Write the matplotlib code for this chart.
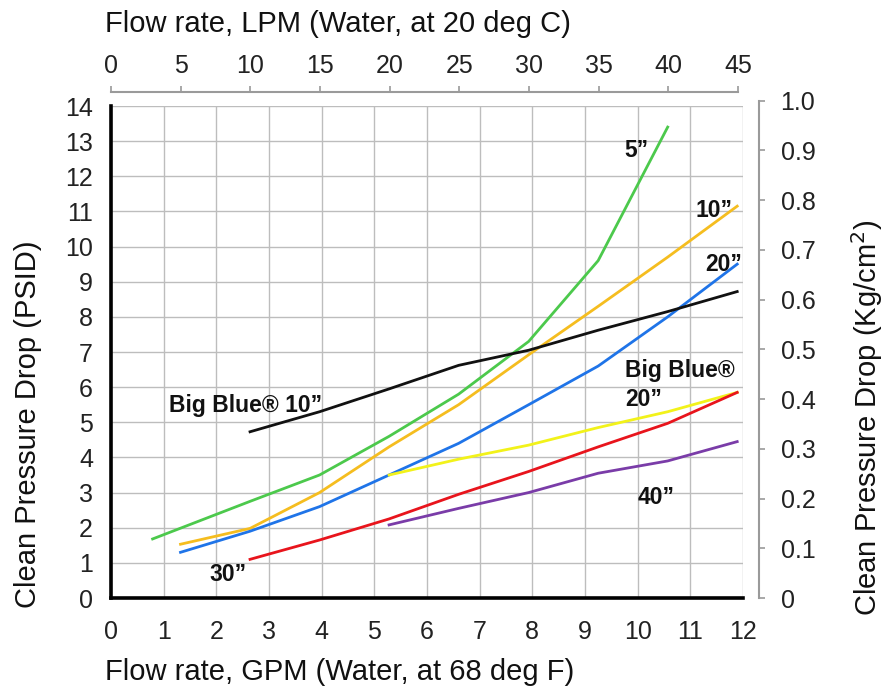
import matplotlib
matplotlib.use("Agg")
import matplotlib.pyplot as plt
import numpy as np

plt.rcParams['font.family'] = ['Liberation Sans', 'DejaVu Sans']

# ---- data (flow in GPM, pressure drop in PSID) ----
gpm_a = [0.79, 2.64, 3.96, 5.28, 6.60, 7.93, 9.25, 10.57]
psid_5in = [1.68, 2.75, 3.50, 4.60, 5.80, 7.30, 9.60, 13.40]

gpm_b = [1.32, 2.64, 3.96, 5.28, 6.60, 7.93, 9.25, 10.57, 11.89]
psid_10in = [1.53, 1.98, 3.00, 4.30, 5.50, 6.92, 8.30, 9.70, 11.15]
psid_20in = [1.30, 1.90, 2.60, 3.50, 4.40, 5.50, 6.60, 8.00, 9.50]

gpm_c = [2.64, 3.96, 5.28, 6.60, 7.93, 9.25, 10.57, 11.89]
psid_bb10 = [4.73, 5.30, 5.95, 6.62, 7.05, 7.62, 8.15, 8.72]
psid_30in = [1.10, 1.65, 2.25, 2.95, 3.60, 4.30, 4.97, 5.85]

gpm_d = [5.28, 6.60, 7.93, 9.25, 10.57, 11.89]
psid_bb20 = [3.50, 3.95, 4.35, 4.85, 5.30, 5.85]
psid_40in = [2.08, 2.55, 3.00, 3.55, 3.90, 4.45]

gpm_ticks = list(range(0, 13))
psid_ticks = list(range(0, 15))
lpm_ticks = list(range(0, 50, 5))
kg_ticks = [0, 0.1, 0.2, 0.3, 0.4, 0.5, 0.6, 0.7, 0.8, 0.9, 1.0]
kg_labels = ['0', '0.1', '0.2', '0.3', '0.4', '0.5', '0.6', '0.7', '0.8', '0.9', '1.0']

W, H = 893, 688
fig = plt.figure(figsize=(W / 100, H / 100), dpi=100)

def fx(px):
    return px / W

def fy(py):
    return 1 - py / H

TICK_FS = 18
TITLE_FS = 21

# main axes: x 111->743, y 598->106
ax = fig.add_axes([fx(111), fy(598), (743 - 111) / W, (598 - 106) / H])
ax.set_xlim(0, 12)
ax.set_ylim(0, 14)
ax.set_xticks(gpm_ticks)
ax.set_yticks(psid_ticks)
ax.grid(True, color='#bdbdbd', linewidth=1.0)
ax.set_axisbelow(True)
for s in ['top', 'right']:
    ax.spines[s].set_visible(False)
for s in ['left', 'bottom']:
    ax.spines[s].set_linewidth(2.6)
    ax.spines[s].set_color('black')
ax.tick_params(axis='both', length=0, labelsize=TICK_FS, colors='#222222')
ax.tick_params(axis='y', pad=13)
ax.tick_params(axis='x', pad=16)

lw = 2.0
ax.plot(gpm_a, psid_5in, color='#4cc94c', lw=lw)
ax.plot(gpm_b, psid_10in, color='#f5bd1f', lw=lw)
ax.plot(gpm_b, psid_20in, color='#1f74e8', lw=lw)
ax.plot(gpm_c, psid_bb10, color='#111111', lw=lw)
ax.plot(gpm_d, psid_bb20, color='#f2f21a', lw=lw)
ax.plot(gpm_c, psid_30in, color='#e8141c', lw=lw)
ax.plot(gpm_d, psid_40in, color='#7a3ca8', lw=lw)

def dx(px):
    return (px - 111) / 52.67

def dy(py):
    return (598 - py) / 35.14

lab = dict(fontsize=16.5, fontweight='bold', color='#111111')
ax.text(dx(636), dy(151), '5\u201d', ha='center', va='center', **lab)
ax.text(dx(714), dy(211), '10\u201d', ha='center', va='center', **lab)
ax.text(dx(724), dy(265), '20\u201d', ha='center', va='center', **lab)
ax.text(dx(625), dy(371), 'Big Blue\u00ae', ha='left', va='center', **lab)
ax.text(dx(625), dy(400), '20\u201d', ha='left', va='center', **lab)
ax.text(dx(656), dy(498), '40\u201d', ha='center', va='center', **lab)
ax.text(dx(228), dy(575), '30\u201d', ha='center', va='center', **lab)
ax.text(dx(246), dy(406), 'Big Blue\u00ae 10\u201d', ha='center', va='center', **lab)

# right axis (kg/cm2) at x=759, y 598->100.7
axr = fig.add_axes([fx(759), fy(598), 1e-4, (598 - 100.7) / H])
axr.set_ylim(0, 1.0)
axr.set_xticks([])
for s in ['top', 'bottom', 'left']:
    axr.spines[s].set_visible(False)
axr.spines['right'].set_color('#9a9a9a')
axr.spines['right'].set_linewidth(1.5)
axr.patch.set_visible(False)
axr.yaxis.tick_right()
axr.set_yticks(kg_ticks)
axr.set_yticklabels(kg_labels)
axr.tick_params(axis='y', direction='out', length=4.5, width=1.2, color='#9a9a9a',
                labelsize=TICK_FS, labelcolor='#222222', pad=11)

# top axis (LPM) at y=92, x 111->738
axt = fig.add_axes([fx(111), fy(92), (738 - 111) / W, 1e-4])
axt.set_xlim(0, 45)
axt.set_yticks([])
for s in ['bottom', 'left', 'right']:
    axt.spines[s].set_visible(False)
axt.spines['top'].set_color('#9a9a9a')
axt.spines['top'].set_linewidth(1.5)
axt.patch.set_visible(False)
axt.xaxis.tick_top()
axt.set_xticks(lpm_ticks)
axt.tick_params(axis='x', direction='out', length=4, width=1.2, color='#9a9a9a',
                labelsize=TICK_FS, labelcolor='#222222', pad=6)

# axis titles
fig.text(fx(105), fy(32), 'Flow rate, LPM (Water, at 20 deg C)', fontsize=TITLE_FS,
         ha='left', va='baseline', color='#111111')
fig.text(fx(105), fy(680), 'Flow rate, GPM (Water, at 68 deg F)', fontsize=TITLE_FS,
         ha='left', va='baseline', color='#111111')
fig.text(fx(28), fy(424), 'Clean Pressure Drop (PSID)', fontsize=TITLE_FS, rotation=90,
         ha='center', va='center', color='#111111')
fig.text(fx(867), fy(418), 'Clean Pressure Drop (Kg/cm$^2$)', fontsize=TITLE_FS, rotation=90,
         ha='center', va='center', color='#111111')

fig.savefig('out.png', dpi=100)
